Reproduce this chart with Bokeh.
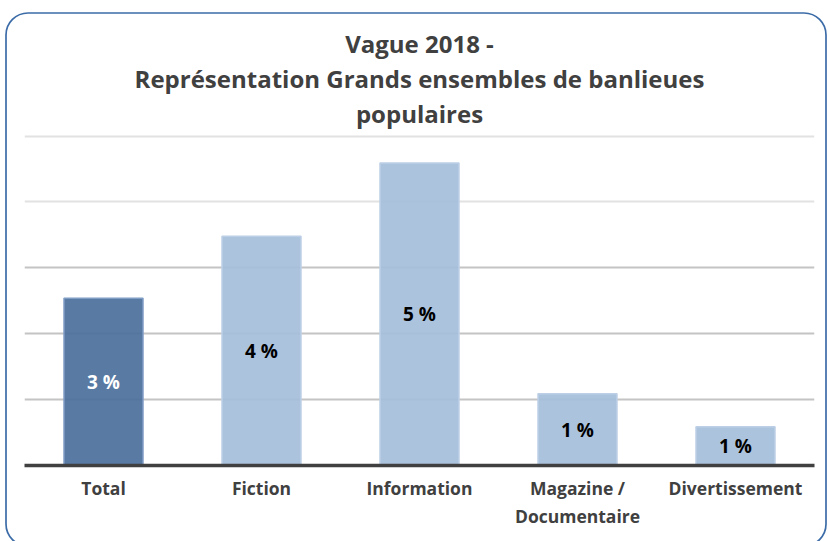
from bokeh.plotting import figure
from bokeh.models import ColumnDataSource, FactorRange, Range1d, FixedTicker, Grid, Title
from bokeh.core.properties import value
from bokeh.embed import file_html
from bokeh.resources import INLINE

categories = ["Total", "Fiction", "Information", "Magazine /\nDocumentaire", "Divertissement"]
values = [2.54, 3.48, 4.59, 1.09, 0.59]
value_labels = ["3 %", "4 %", "5 %", "1 %", "1 %"]
bar_colors = ["#4B709C", "#A6BEDC", "#A6BEDC", "#A6BEDC", "#A6BEDC"]
edge_colors = ["#7F9DC4", "#BCCFE6", "#BCCFE6", "#BCCFE6", "#BCCFE6"]
label_colors = ["#FFFFFF", "#000000", "#000000", "#000000", "#000000"]
title_lines = ["Vague 2018 -", "Représentation Grands ensembles de banlieues", "populaires"]
grid_dark = [1, 2, 3]
grid_light = [4, 5]

FONT = "Open Sans"

src = ColumnDataSource(dict(
    cat=categories, val=values, half=[v / 2 for v in values], lab=value_labels,
    fill=bar_colors, edge=edge_colors, lc=label_colors,
))

p = figure(width=828, height=541, x_range=FactorRange(*categories), y_range=Range1d(0, 5.1),
           output_backend="svg", toolbar_location=None, y_axis_location=None,
           min_border_left=24, min_border_right=14, min_border_top=129, min_border_bottom=76)
p.outline_line_color = None
p.border_fill_color = None
p.background_fill_color = None

# rounded chart-area frame drawn as the element background (decoration only)
frame_svg = ("data:image/svg+xml;utf8,<svg xmlns='http://www.w3.org/2000/svg' width='828' height='541'>"
             "<rect x='6' y='13' width='820' height='533' rx='22' ry='22' fill='white' "
             "stroke='%233C6CA8' stroke-width='1.7'/></svg>")
p.styles = {"background-image": f'url("{frame_svg}")', "background-repeat": "no-repeat",
            "background-color": "white"}

p.xgrid.visible = False
p.ygrid.visible = False
p.add_layout(Grid(dimension=1, ticker=FixedTicker(ticks=grid_dark), grid_line_color="#C4C4C4", grid_line_width=2))
p.add_layout(Grid(dimension=1, ticker=FixedTicker(ticks=grid_light), grid_line_color="#E2E2E2", grid_line_width=2))

p.vbar(x="cat", top="val", width=0.5, source=src, fill_color="fill", fill_alpha=0.93,
       line_color="edge", line_width=1.5)

p.text(x="cat", y="half", text="lab", source=src, text_color="lc", text_font=value(FONT),
       text_align="center", text_baseline="middle", text_font_size="19px", text_font_style="bold")

ax = p.xaxis[0]
ax.axis_line_color = "#404040"
ax.axis_line_width = 3.5
ax.major_tick_line_color = None
ax.minor_tick_line_color = None
ax.major_label_standoff = 4
ax.major_label_text_font = FONT
ax.major_label_text_font_style = "bold"
ax.major_label_text_font_size = "17.5px"
ax.major_label_text_color = "#404040"

for line in reversed(title_lines):
    p.add_layout(Title(text=line, align="center", text_font=FONT, text_font_style="bold",
                       text_font_size="24px", text_color="#404040", standoff=0), "above")

open("out.html", "w").write(file_html(p, INLINE))
